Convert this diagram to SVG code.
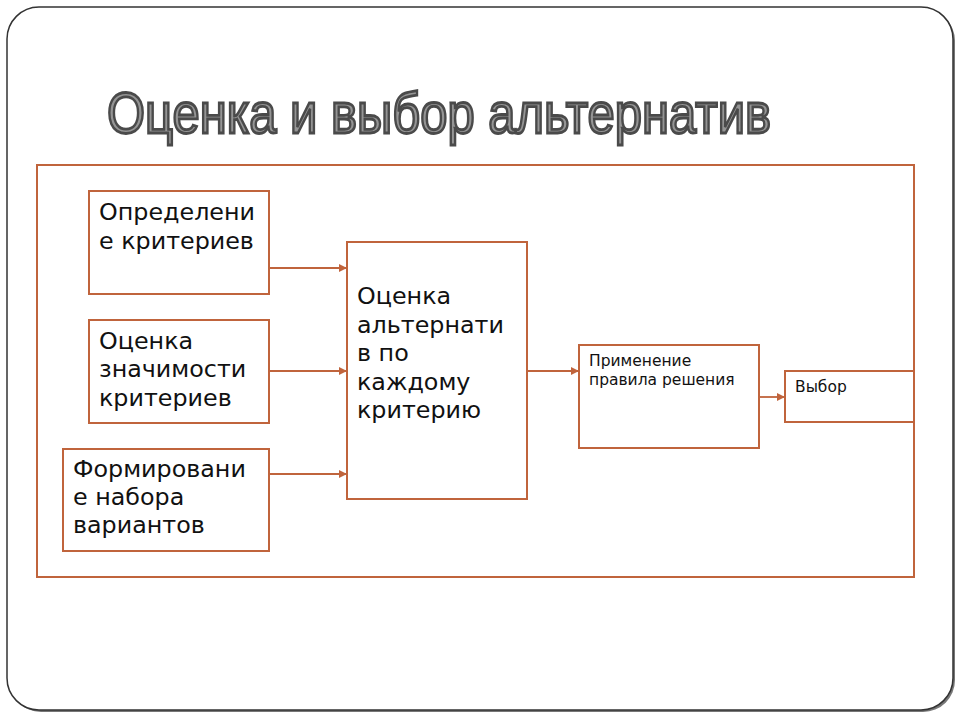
<svg xmlns="http://www.w3.org/2000/svg" width="960" height="720" viewBox="0 0 960 720">
<defs>
<style>
.box{fill:#fff;stroke:#c0643c;stroke-width:2}
.t{font-family:"DejaVu Sans",sans-serif;fill:#111}
.big{font-size:23.8px}
.sm{font-size:15.5px}
.con{stroke:#c0643c;stroke-width:1.8;fill:none;marker-end:url(#ah)}
</style>
<marker id="ah" markerWidth="8" markerHeight="8" refX="7" refY="4" orient="auto" markerUnits="userSpaceOnUse">
<path d="M0,0 L8,4 L0,8 Z" fill="#c0643c"/>
</marker>
</defs>
<rect width="960" height="720" fill="#fff"/>
<rect x="9" y="9" width="946" height="703" rx="32" fill="#777"/>
<rect x="7" y="7" width="946" height="703" rx="32" fill="#fff" stroke="#333" stroke-width="1.5"/>
<text x="107" y="133" font-family="Liberation Sans,Arial,sans-serif" font-size="58" fill="#959595" stroke="#4a4a4a" stroke-width="2.8" textLength="664" lengthAdjust="spacingAndGlyphs">Оценка и выбор альтернатив</text>
<rect x="37" y="165" width="877" height="412" fill="none" stroke="#c0643c" stroke-width="2"/>
<g id="connectors">
<line class="con" x1="270" y1="268" x2="346" y2="268"/>
<line class="con" x1="270" y1="371" x2="346" y2="371"/>
<line class="con" x1="270" y1="474" x2="346" y2="474"/>
<line class="con" x1="528" y1="371" x2="578" y2="371"/>
<line class="con" x1="760" y1="397" x2="784" y2="397"/>
</g>
<g id="n1"><rect class="box" x="89" y="191" width="180" height="103"/>
<text class="t big" x="99"><tspan x="99" y="220">Определени</tspan><tspan x="99" y="249">е критериев</tspan></text></g>
<g id="n2"><rect class="box" x="89" y="320" width="180" height="103"/>
<text class="t big"><tspan x="99" y="349">Оценка</tspan><tspan x="99" y="377">значимости</tspan><tspan x="99" y="406">критериев</tspan></text></g>
<g id="n3"><rect class="box" x="63" y="449" width="206" height="102"/>
<text class="t big"><tspan x="73" y="477">Формировани</tspan><tspan x="73" y="505">е набора</tspan><tspan x="73" y="533">вариантов</tspan></text></g>
<g id="n4"><rect class="box" x="347" y="242" width="180" height="257"/>
<text class="t big"><tspan x="357" y="304">Оценка</tspan><tspan x="357" y="333">альтернати</tspan><tspan x="357" y="361">в по</tspan><tspan x="357" y="390">каждому</tspan><tspan x="357" y="418">критерию</tspan></text></g>
<g id="n5"><rect class="box" x="579" y="345" width="180" height="103"/>
<text class="t sm"><tspan x="589" y="366">Применение</tspan><tspan x="589" y="385">правила решения</tspan></text></g>
<g id="n6"><rect class="box" x="785" y="371" width="129" height="51"/>
<text class="t sm"><tspan x="795" y="392">Выбор</tspan></text></g>
</svg>
